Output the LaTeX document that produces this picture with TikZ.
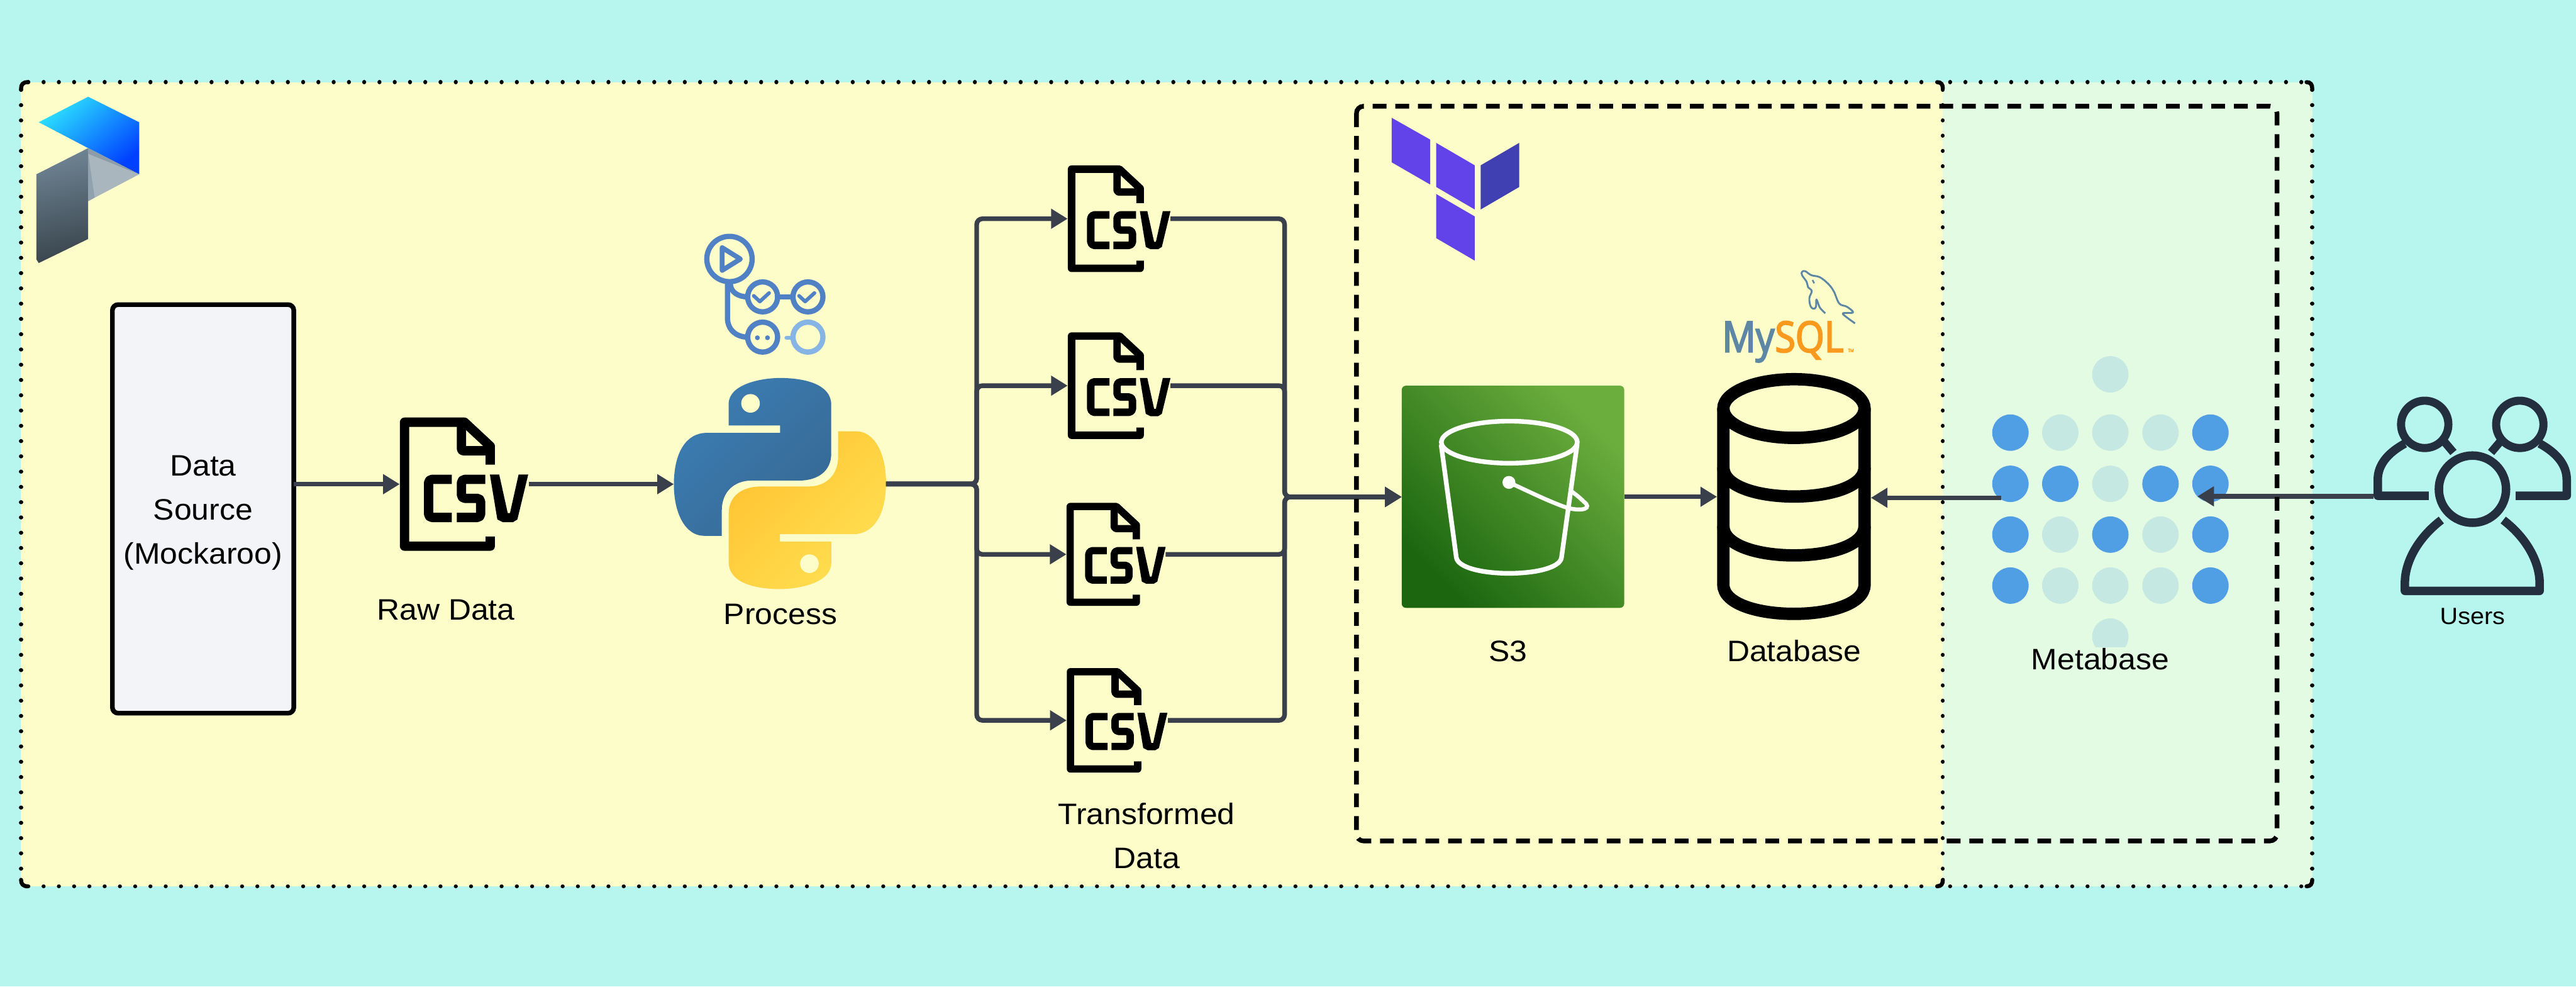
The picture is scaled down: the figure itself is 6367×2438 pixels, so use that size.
\documentclass[tikz,border=0pt]{standalone}
\usepackage{fontspec}
\setmainfont[FakeStretch=1.06]{Liberation Sans}
\newfontfamily\mysqlfont[FakeStretch=0.87,FakeBold=3]{Open Sans}
\usetikzlibrary{arrows.meta}
\definecolor{bgc}{HTML}{B7F6EE}
\definecolor{yel}{HTML}{FDFDC9}
\definecolor{grn}{HTML}{E3FBE3}
\definecolor{conn}{HTML}{3A404B}
\definecolor{gha}{HTML}{4F81C4}
\definecolor{ghb}{HTML}{85B4E5}
\definecolor{mbb}{HTML}{509EE3}
\definecolor{mbl}{HTML}{C6E8E2}
\definecolor{usr}{HTML}{232F3E}
\definecolor{tfa}{HTML}{6243EA}
\definecolor{tfb}{HTML}{4040B2}
\definecolor{sqlb}{HTML}{5E87A6}
\definecolor{sqlo}{HTML}{F9991E}
\definecolor{dsf}{HTML}{F2F4F7}
\definecolor{pfa}{HTML}{2BE0FF}
\definecolor{pfb}{HTML}{0040FF}
\definecolor{pga}{HTML}{6F8494}
\definecolor{pgb}{HTML}{3A464E}
\definecolor{pla}{HTML}{A9B6BE}
\definecolor{plb}{HTML}{8C9CA9}
\definecolor{plc}{HTML}{92A1AE}
\definecolor{pyba}{HTML}{3C7DB3}
\definecolor{pybb}{HTML}{366994}
\definecolor{pyya}{HTML}{FFE052}
\definecolor{pyyb}{HTML}{FFC331}
\definecolor{sza}{HTML}{6CAE3E}
\definecolor{szb}{HTML}{1B660F}
\tikzset{
  lw/.style={line width=#1*0.28453pt},
  iconbox/.style 2 args={minimum width=#1*0.28453pt,minimum height=#2*0.28453pt,inner sep=0pt,outer sep=0pt},
  conline/.style={draw=conn,lw=11.5,rounded corners=4pt},
  arrowed/.style={conline,-{Triangle[length=11.66pt,width=13.4pt]}},
  dotbox/.style={draw=black,lw=10,line cap=round,dash pattern=on 0.01pt off 10.72pt},
  dashbox/.style={draw=black,lw=11.5,dash pattern=on 9.67pt off 6.26pt},
  corner/.style={draw=black,lw=10,line cap=round},
  lab/.style={anchor=base,inner sep=0pt,font=\fontsize{20.8}{30.9}\selectfont,text=black},
  csvstroke/.style={draw=black,line join=round},
}
% CSV icon: centre-left at (#1,#2), scale #3
\newcommand{\csvicon}[3]{%
  \begin{scope}[shift={(#1,#2)},scale=#3]
    \draw[csvstroke,lw=18.5*#3] (179,-38.5) -- (179,-75) -- (128,-122.5) -- (9.5,-122.5) -- (9.5,122.5) -- (179,122.5) -- (179,103.5);
    \draw[csvstroke,lw=18.5*#3,rounded corners=1.5pt] (122,-122.5) -- (122,-66) -- (179,-66);
    \draw[csvstroke,lw=18.5*#3,rounded corners=2.5pt] (103,-9.5) -- (57,-9.5) -- (57,65.8) -- (103,65.8);
    \draw[csvstroke,lw=18.5*#3,rounded corners=2.5pt] (169,-9.5) -- (122,-9.5) -- (122,28) -- (160,28) -- (160,65.8) -- (113,65.8);
    \fill[black] (178.3,-19) -- (196.7,-19) -- (213.5,57) -- (218,57) -- (235,-19) -- (254,-19) -- (232.6,69.7) -- (223.5,75.3) -- (204.3,75.3) -- (193,69.7) -- cycle;
  \end{scope}}
\newcommand{\pypath}{(1801,1051.4) -- (1801,998) .. controls (1801,950) and (1880,934) .. (1928,934) .. controls (1990,934) and (2054.5,950) .. (2054.5,1000) -- (2054.5,1121) .. controls (2054.5,1165) and (2020,1187.5) .. (1975,1187.5) -- (1857,1187.5) .. controls (1815,1187.5) and (1784,1215) .. (1784,1261) -- (1784,1324) -- (1740,1324) .. controls (1695,1324) and (1665.6,1270) .. (1665.6,1197) .. controls (1665.6,1120) and (1695,1069.6) .. (1747,1069.6) -- (1928,1069.6) -- (1928,1051.4) -- cycle}
\begin{document}
\begin{tikzpicture}[x=0.01cm,y=-0.01cm]
\useasboundingbox (0,0) rectangle (6367,2438);
\fill[bgc] (0,0) rectangle (6367,2438);
\fill[yel] (52,203) rectangle (4802,2190);
\fill[grn] (4802,203) rectangle (5715,2190);
% dotted frames
\path[dotbox] (70,203) -- (4785,203);
\path[dotbox] (52,222) -- (52,2172);
\path[dotbox] (70,2190) -- (4785,2190);
\path[dotbox] (4802,222) -- (4802,2172);
\path[dotbox] (4820,203) -- (5698,203);
\path[dotbox] (4820,2190) -- (5698,2190);
\path[dotbox] (5715,222) -- (5715,2172);
\draw[corner] (52,219) .. controls (52,209) and (57,203) .. (68,203);
\draw[corner] (52,2174) .. controls (52,2184) and (57,2190) .. (68,2190);
\draw[corner] (4788,203) .. controls (4798,203) and (4802,209) .. (4802,219);
\draw[corner] (4788,2190) .. controls (4798,2190) and (4802,2184) .. (4802,2174);
\draw[corner] (5701,203) .. controls (5711,203) and (5715,209) .. (5715,219);
\draw[corner] (5701,2190) .. controls (5711,2190) and (5715,2184) .. (5715,2174);
% Prefect logo
\shade[top color=pfa,bottom color=pfb,shading angle=40] (218,239) -- (344,302) -- (344,430.6) -- (218,366) -- (95.7,302) -- cycle;
\shade[top color=pga,bottom color=pgb,shading angle=15] (218,366) -- (90,430.6) -- (90,641) -- (95.7,650) -- (218,590.5) -- cycle;
\fill[pla] (218,366) -- (344,430.6) -- (218,497) -- cycle;
\fill[plb] (218,366) -- (344,430.6) -- (218,380) -- cycle;
\fill[plc] (218,380) -- (234,488) -- (218,497) -- cycle;
% Data source
\node[draw=black,fill=dsf,lw=11.5,rounded corners=4pt,iconbox={448}{1009}] (ds) at (502,1257.5) {};
\node[lab,anchor=center,align=center] (dstext) at (502,1267) {Data\\Source\\(Mockaroo)};
% CSV icons
\node[iconbox={319}{330}] (rawcsv) at (1147.5,1196.4) {};
\csvicon{988}{1196.4}{1.25}
\node[lab] (rawlabel) at (1102,1531.6) {Raw Data};
\node[iconbox={254}{264}] (csva) at (2766,540.5) {};
\node[iconbox={254}{264}] (csvb) at (2766,953) {};
\node[iconbox={245}{255}] (csvc) at (2758.5,1369.8) {};
\node[iconbox={250}{259}] (csvd) at (2761.5,1780) {};
\csvicon{2639}{540.5}{1}
\csvicon{2639}{953}{1}
\csvicon{2636}{1369.8}{0.965}
\csvicon{2636.5}{1780}{0.98}
\node[lab,align=center,anchor=center] (tlabel) at (2834,2066) {Transformed\\Data};
% Python
\node[iconbox={524.4}{521.5}] (python) at (1927.8,1194.8) {};
\shade[top color=pyba,bottom color=pybb,shading angle=45] \pypath;
\begin{scope}[cm={-1,0,0,-1,(3855.6,2389.6)}]
\shade[top color=pyya,bottom color=pyyb,shading angle=225] \pypath;
\end{scope}
\fill[yel] (1855,996.7) circle [radius=23];
\fill[yel] (2000.6,1392.9) circle [radius=23];
\node[lab] (proclabel) at (1929,1543) {Process};
% GitHub Actions
\draw[gha,lw=13] (1803,640) circle [radius=56];
\draw[gha,lw=12,line join=round] (1785,612) -- (1830,640) -- (1785,668) -- cycle;
\draw[gha,lw=13] (1885,733.6) circle [radius=37];
\draw[gha,lw=13] (1997,733.6) circle [radius=37];
\draw[gha,lw=13] (1885,833) circle [radius=37];
\draw[ghb,lw=13] (1997,833) circle [radius=37];
\draw[gha,lw=13] (1922,733.6) -- (1960,733.6);
\draw[gha,lw=13] (1798,698) -- (1798,785) .. controls (1798,815) and (1820,833) .. (1848,833);
\draw[gha,lw=13] (1805,700) .. controls (1805,722) and (1825,733.6) .. (1848,733.6);
\draw[gha,lw=9,line cap=round,line join=round] (1863,731) -- (1878,745) -- (1901,724);
\draw[gha,lw=9,line cap=round,line join=round] (1975,731) -- (1990,745) -- (2013,724);
\fill[gha] (1872,834.6) circle [radius=6];
\fill[gha] (1897,834.6) circle [radius=6];
\draw[ghb,lw=10,line cap=round] (1944,834.6) -- (1960,834.6);
% Terraform
\fill[tfa] (3439.7,291) -- (3535,345) -- (3535,456) -- (3439.7,401) -- cycle;
\fill[tfa] (3549.7,353) -- (3645,408.5) -- (3645,517.6) -- (3549.7,462) -- cycle;
\fill[tfb] (3659.7,408.5) -- (3755,353) -- (3755,462) -- (3659.7,517.6) -- cycle;
\fill[tfa] (3549.7,479.4) -- (3645,534.8) -- (3645,644) -- (3549.7,588.4) -- cycle;
% S3
\node[iconbox={550}{549}] (sthree) at (3739.5,1227.5) {};
\shade[top color=sza,bottom color=szb,shading angle=-45,rounded corners=3pt] (3464.5,953) rectangle (4014.5,1502);
\draw[white,lw=11.5] (3730.5,1092.6) ellipse [x radius=168,y radius=52];
\draw[white,lw=11.5,line join=round] (3562,1099) -- (3599.4,1376.7) .. controls (3605,1430) and (3855,1430) .. (3859.6,1376.7) -- (3898,1099);
\fill[white] (3729.5,1192) circle [radius=16];
\draw[white,lw=10] (3729.5,1192) .. controls (3780,1215) and (3830,1240) .. (3874,1255) .. controls (3915,1265) and (3935,1255) .. (3915,1240) .. controls (3905,1230) and (3895,1222) .. (3884,1214);
\node[lab] (s3label) at (3727.6,1635) {S3};
% Database
\node[iconbox={380}{610}] (db) at (4434,1227.5) {};
\draw[black,lw=30.6] (4434,1009.5) ellipse [x radius=174.5,y radius=72.5];
\draw[black,lw=30.6] (4259.5,1009.5) -- (4259.5,1444.5) .. controls (4259.5,1541) and (4608.5,1541) .. (4608.5,1444.5) -- (4608.5,1009.5);
\draw[black,lw=30.6] (4259.5,1154.5) .. controls (4259.5,1251) and (4608.5,1251) .. (4608.5,1154.5);
\draw[black,lw=30.6] (4259.5,1300) .. controls (4259.5,1396.5) and (4608.5,1396.5) .. (4608.5,1300);
\node[lab] (dblabel) at (4434.6,1635) {Database};
% MySQL
\node[anchor=base west,inner sep=0pt,text=sqlb,font=\mysqlfont\fontsize{30}{30}\selectfont] (sqlmy) at (4256,870) {My};
\node[anchor=base west,inner sep=0pt,text=sqlo,font=\mysqlfont\fontsize{30}{30}\selectfont] (sqlsql) at (sqlmy.base east) {SQL};
\node[anchor=base west,inner sep=0pt,text=sqlo,font=\mysqlfont\fontsize{3.2}{3.2}\selectfont] (sqltm) at (4567,870) {TM};
\draw[sqlb,lw=4.5,line join=round] plot[smooth,tension=0.6] coordinates {(4511.4,774) (4498,760) (4489.6,740) (4488.4,758) (4482.7,763) (4475,756.7) (4472,736.7) (4478,719) (4469,710) (4465.5,696.7) (4454,680) (4454,671.7) (4461.7,670) (4477,680) (4498,685) (4519,701.7) (4532.5,720) (4546,750) (4565,758) (4580,772) (4555.4,774) (4563,783) (4585,799)};
\draw[sqlb,lw=4] (4480,692) -- (4484,700);
% Metabase
\begin{scope}
\clip (4900,880) rectangle (5520,1599);
\foreach \cx/\cy/\cc in {
 5216/925/mbl,
 4969/1069/mbb,5092.3/1069/mbl,5216/1069/mbl,5340/1069/mbl,5463.4/1069/mbb,
 4969/1195.5/mbb,5092.3/1195.5/mbb,5216/1195.5/mbl,5340/1195.5/mbb,5463.4/1195.5/mbb,
 4969/1321/mbb,5092.3/1321/mbl,5216/1321/mbb,5340/1321/mbl,5463.4/1321/mbb,
 4969/1447/mbb,5092.3/1447/mbl,5216/1447/mbl,5340/1447/mbl,5463.4/1447/mbb,
 5216/1573/mbl}
  \fill[\cc] (\cx,\cy) circle [radius=45];
\end{scope}
\node[iconbox={484}{10}] (metabase) at (5189,1230) {};
\node[lab] (mblabel) at (5191,1654) {Metabase};
% connector junctions
\coordinate (lbus) at (2414,1196);
\coordinate (rbus) at (3175,1228);
% Users
\node[iconbox={489}{360}] (users) at (6111.5,1226.5) {};
% connectors
\draw[arrowed] (rawcsv.west -| ds.east) -- (rawcsv.west);
\draw[arrowed] (rawcsv.east) -- (rawcsv.east -| python.west);
\draw[arrowed] (lbus -| python.east) -- (lbus) |- (csva.west);
\draw[arrowed] (lbus -| python.east) -- (lbus) |- (csvb.west);
\draw[arrowed] (lbus -| python.east) -- (lbus) |- (csvc.west);
\draw[arrowed] (lbus -| python.east) -- (lbus) |- (csvd.west);
\draw[arrowed] (csva.east) -| (rbus) -- (rbus -| sthree.west);
\draw[arrowed] (csvb.east) -| (rbus) -- (rbus -| sthree.west);
\draw[arrowed] (csvc.east) -| (rbus) -- (rbus -| sthree.west);
\draw[arrowed] (csvd.east) -| (rbus) -- (rbus -| sthree.west);
\draw[arrowed] (sthree.east) -- (sthree.east -| db.west);
\draw[arrowed] (metabase.west) -- (metabase.west -| db.east);
\draw[arrowed] (users.west) -- (users.west -| metabase.east);
% Users icon
\begin{scope}[usr]
\draw[lw=20] (5993,1048.6) circle [radius=58.5];
\draw[lw=20] (6228,1048.6) circle [radius=58.5];
\draw[lw=21,line join=round] (6003,1225) -- (5877,1225) -- (5877,1185) .. controls (5877,1150) and (5900,1120) .. (5944,1096);
\draw[lw=21,line join=round] (6218,1225) -- (6344,1225) -- (6344,1185) .. controls (6344,1150) and (6321,1120) .. (6277,1096);
\draw[lw=20] (6042,1092) -- (6064,1118);
\draw[lw=20] (6179,1092) -- (6157,1118);
\fill[bgc] (6111,1208.7) circle [radius=83];
\draw[lw=21] (6111,1208.7) circle [radius=83];
\draw[lw=21,line join=round] (6034,1285) .. controls (5975,1330) and (5944,1390) .. (5944,1440) -- (5944,1460) -- (6277,1460) -- (6277,1440) .. controls (6277,1390) and (6246,1330) .. (6187,1285);
\end{scope}
\node[lab,font=\fontsize{16.5}{16.5}\selectfont] (userslabel) at (6111,1543) {Users};
% dashed frame
\draw[dashbox,rounded corners=5pt] (3352.6,262.5) rectangle (5628,2078);
\end{tikzpicture}
\end{document}
